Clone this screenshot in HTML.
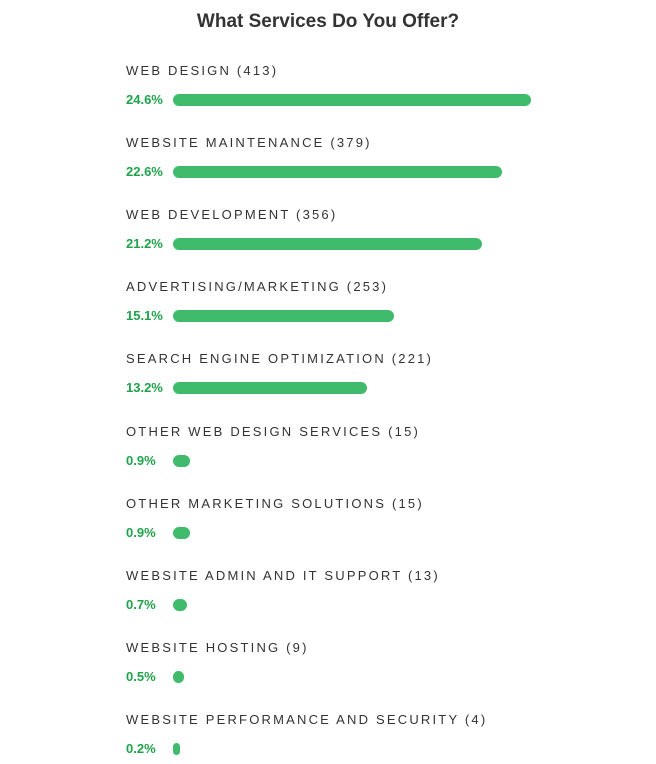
<!DOCTYPE html>
<html><head><meta charset="utf-8"><style>
body{margin:0;width:656px;height:764px;background:#fff;font-family:"Liberation Sans",sans-serif;position:relative;overflow:hidden}
.t{position:absolute;top:11px;left:0;width:656px;text-align:center;font-size:19px;font-weight:bold;color:#333}
.lab{position:absolute;left:126px;font-size:13px;letter-spacing:2.2px;color:#333;line-height:16px;white-space:nowrap}
.pct{position:absolute;left:126px;font-size:13px;font-weight:bold;color:#1fa34a;line-height:16px}
.bar{position:absolute;left:173px;height:12px;border-radius:6px;background:#3fbb6b}
</style></head><body>
<div class="t">What Services Do You Offer?</div>
<div id="c"></div>
<script>
const categories=["WEB DESIGN","WEBSITE MAINTENANCE","WEB DEVELOPMENT","ADVERTISING/MARKETING","SEARCH ENGINE OPTIMIZATION","OTHER WEB DESIGN SERVICES","OTHER MARKETING SOLUTIONS","WEBSITE ADMIN AND IT SUPPORT","WEBSITE HOSTING","WEBSITE PERFORMANCE AND SECURITY"];
const counts=[413,379,356,253,221,15,15,13,9,4];
const percents=[24.6,22.6,21.2,15.1,13.2,0.9,0.9,0.7,0.5,0.2];
const c=document.getElementById('c');
function xScale(v){return 4+v*14.4;}
categories.forEach((cat,i)=>{
  const y=63+i*72.1;
  const l=document.createElement('div');l.className='lab';l.style.top=y+'px';l.textContent=cat+' ('+counts[i]+')';
  
  
  c.appendChild(l);
  const p=document.createElement('div');p.className='pct';p.style.top=(y+29)+'px';p.textContent=percents[i].toFixed(1)+'%';
  
  
  c.appendChild(p);
  const b=document.createElement('div');b.className='bar';b.style.top=(y+31)+'px';b.style.width=xScale(percents[i])+'px';
  
  
  c.appendChild(b);
});
</script>
</body></html>
